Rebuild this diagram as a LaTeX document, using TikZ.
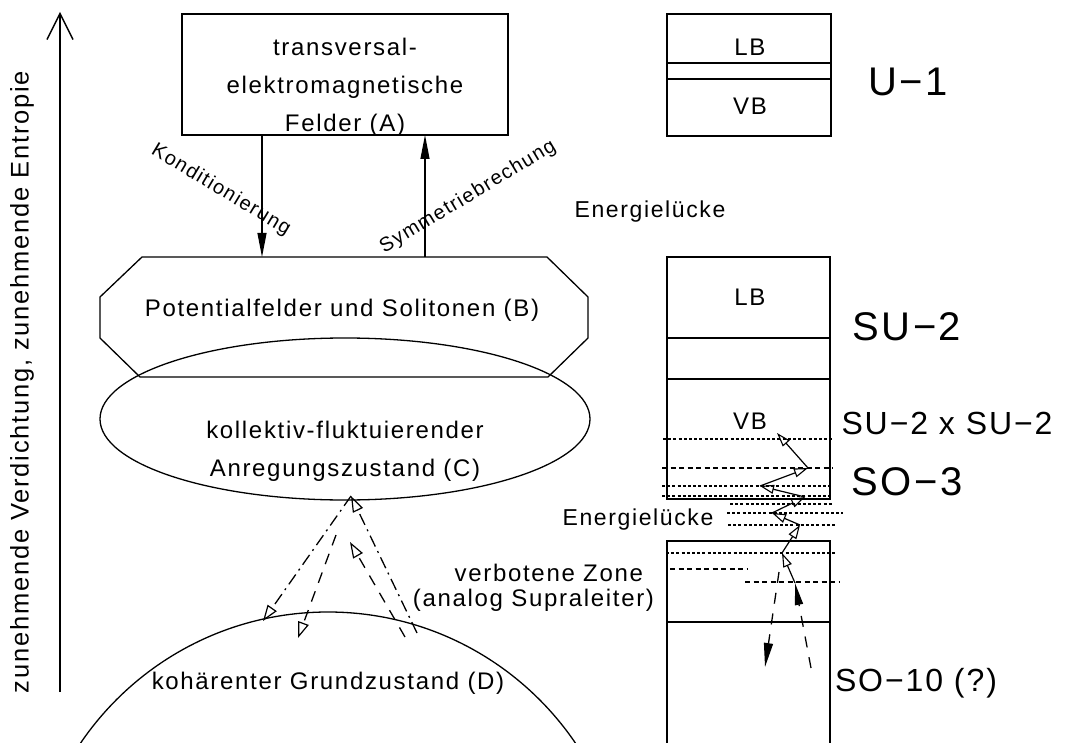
\documentclass[tikz,border=0pt]{standalone}
\usepackage{fontspec}
\setmainfont{Liberation Sans}[LetterSpace=7]
\newfontfamily\bigfont{Liberation Sans}[LetterSpace=6]
\usetikzlibrary{arrows.meta,shapes.geometric,calc}
\begin{document}
\begin{tikzpicture}[x=1pt,y=-1pt,
  every node/.style={inner sep=0pt, outer sep=0pt},
  lbl/.style={font=\fontsize{24}{29}\selectfont},
  lblv/.style={font=\fontsize{25.5}{29}\selectfont},
  lbltwo/.style={font=\fontsize{24}{38}\selectfont, align=center},
  lblsm/.style={font=\fontsize{20}{24}\selectfont},
  lblgap/.style={font=\fontsize{23}{28}\selectfont},
  big/.style={font=\bigfont\fontsize{40}{46}\selectfont},
  mid/.style={font=\bigfont\fontsize{32}{37}\selectfont},
  frame/.style={draw, line width=1.8pt},
  thin/.style={line width=1.2pt},
  band/.style={line width=1.2pt},
  bandthick/.style={line width=2.2pt},
  lvl/.style={line width=1.1pt, dash pattern=on 3pt off 2.2pt},
  lvldash/.style={line width=1.1pt, dash pattern=on 5pt off 3.5pt},
  fillhead/.style={-{Triangle[length=24pt,width=9pt]}},
  openhead/.style={-{Triangle[open,length=16pt,width=11pt,line width=1.2pt]}},
  zz/.style={line width=1.2pt, -{Triangle[open,length=14pt,width=9pt,line width=1.1pt]}},
  dashA/.style={line width=1.3pt, dash pattern=on 11pt off 9pt},
  dashR/.style={line width=1.3pt, dash pattern=on 11pt off 10pt},
  dashdot/.style={line width=1.3pt, dash pattern=on 12pt off 5pt on 2pt off 5pt},
]
\fill[white] (0,0) rectangle (1070,743);
\useasboundingbox (0,0) rectangle (1070,743);

% main axis arrow
\coordinate (ax0) at (60,692);
\coordinate (ax1) at (60,12);
\draw[line width=1.4pt, -{Straight Barb[length=26pt,width=26pt,line width=1.4pt]}] (ax0) -- (ax1);
\node[lblv, rotate=90] (vt) at (22,382) {zunehmende Verdichtung, zunehmende Entropie};

% box A
\node[frame, minimum width=326pt, minimum height=121pt] (A) at (345,74.5) {};
\node[lbltwo] (Atext) at (345,87) {transversal-\\elektromagnetische\\Felder (A)};

% octagon B
\node[minimum width=488pt, minimum height=120pt] (B) at (344,317) {};
\draw[line width=1.3pt]
  ([xshift=42pt]B.north west) -- ([xshift=-41pt]B.north east)
  -- ([yshift=-40pt]B.north east) -- ([yshift=39pt]B.south east)
  -- ([xshift=-40pt]B.south east) -- ([xshift=40pt]B.south west)
  -- ([yshift=39pt]B.south west) -- ([yshift=-40pt]B.north west) -- cycle;
\node[lbl] (Btext) at (342,310) {Potentialfelder und Solitonen (B)};

% arrows between A and B
\coordinate (kx) at (262,0);
\coordinate (sx) at (425,0);
\draw[thin, fillhead] (kx |- A.south) -- (kx |- B.north);
\draw[thin, fillhead] (sx |- B.north) -- (sx |- A.south);
\node[lblsm, rotate=-31] (kon) at (221,190) {Konditionierung};
\node[lblsm, rotate=31] (sym) at (468,197) {Symmetriebrechung};

% ellipse C
\node[draw, line width=1.3pt, ellipse, minimum width=490pt, minimum height=162pt] (C) at (345,419) {};
\node[lbltwo] (Ctext) at (345,451) {kollektiv-fluktuierender\\Anregungszustand (C)};

% circle D
\begin{scope}
\clip (0,0) rectangle (1070,743);
\node[draw, line width=1.3pt, circle, minimum size=598pt] (D) at (328,911) {};
\end{scope}
\node[lbl] (Dtext) at (328,683) {kohärenter Grundzustand (D)};

% transitions between C and D
\coordinate (p1) at (351,496);
\coordinate (p2) at (263,621);
\coordinate (p3) at (417,633);
\coordinate (p4) at (336,535);
\coordinate (p5) at (298,638);
\coordinate (p6) at (405,637);
\coordinate (p7) at (350,542);
\draw[dashdot, openhead] (p1) -- (p2);
\draw[dashdot, openhead] (p3) -- (p1);
\draw[dashA, openhead] (p4) -- (p5);
\draw[dashA, openhead] (p6) -- (p7);

% right column: U-1
\node[frame, minimum width=164pt, minimum height=122pt] (U1) at (749,75) {};
\draw[band] (U1.west |- 0,63) -- (U1.east |- 0,63);
\draw[bandthick] (U1.west |- 0,79) -- (U1.east |- 0,79);
\node[lbl] (lb1) at (750,47) {LB};
\node[lbl] (vb1) at (750,106) {VB};
\node[big] (u1l) at (908,82) {U−1};
\node[lblgap] (eg1) at (650,212) {Energielücke};

% SU-2 box
\node[frame, minimum width=163pt, minimum height=242pt] (SU) at (748.5,378) {};
\draw[bandthick] (SU.west |- 0,338) -- (SU.east |- 0,338);
\draw[band] (SU.west |- 0,379) -- (SU.east |- 0,379);
\node[lbl] (lb2) at (750,297) {LB};
\node[lbl] (vb2) at (750,421) {VB};
\node[big] (su2l) at (907,327) {SU−2};
\node[mid] (su22l) at (947,423) {SU−2 x SU−2};
\node[big] (so3l) at (907,482) {SO−3};

% SO-10 box
\begin{scope}
\clip (0,0) rectangle (1070,743);
\node[frame, minimum width=163pt, minimum height=238pt] (SO) at (748.5,660) {};
\end{scope}
\draw[bandthick] (SO.west |- 0,622) -- (SO.east |- 0,622);
\node[mid, anchor=west] (so10l) at (835,683) {SO−10 (?)};
\node[lblgap] (eg2) at (638,520) {Energielücke};
\node[lbl, anchor=east] (vz) at (643,573) {verbotene Zone};
\node[lbl, anchor=east] (asl) at (654,600) {(analog Supraleiter)};

% level lines
\draw[lvl] (663,439) -- (832,439);
\draw[lvldash] (662,468) -- (833,468);
\draw[lvl] (662,486) -- (833,486);
\draw[lvl] (662,496) -- (833,496);
\draw[lvl] (730,504) -- (832,504);
\draw[lvl] (727,513) -- (843,513);
\draw[lvl] (728,525) -- (835,525);
\draw[lvl] (666,553) -- (836,553);
\draw[lvldash] (670,569) -- (747,569);
\draw[lvldash] (745,582) -- (839,582);

% zigzag path
\coordinate (z0) at (811,668);
\coordinate (z1) at (795,583);
\coordinate (z2) at (782,553);
\coordinate (z3) at (800,525);
\coordinate (z4) at (772,513);
\coordinate (z5) at (805,497);
\coordinate (z6) at (760,486);
\coordinate (z7) at (808,468);
\coordinate (z8) at (777,433);
\draw[dashR, -{Triangle[length=22pt,width=8pt]}] (z0) -- (z1);
\draw[zz] (z1) -- (z2);
\draw[zz] (z2) -- (z3);
\draw[zz] (z3) -- (z4);
\draw[zz] (z4) -- (z5);
\draw[zz] (z5) -- (z6);
\draw[zz] (z6) -- (z7);
\draw[zz] (z7) -- (z8);
\coordinate (w0) at (779,572);
\coordinate (w1) at (765,667);
\draw[dashR, -{Triangle[length=24pt,width=9pt]}] (w0) -- (w1);
\end{tikzpicture}
\end{document}
